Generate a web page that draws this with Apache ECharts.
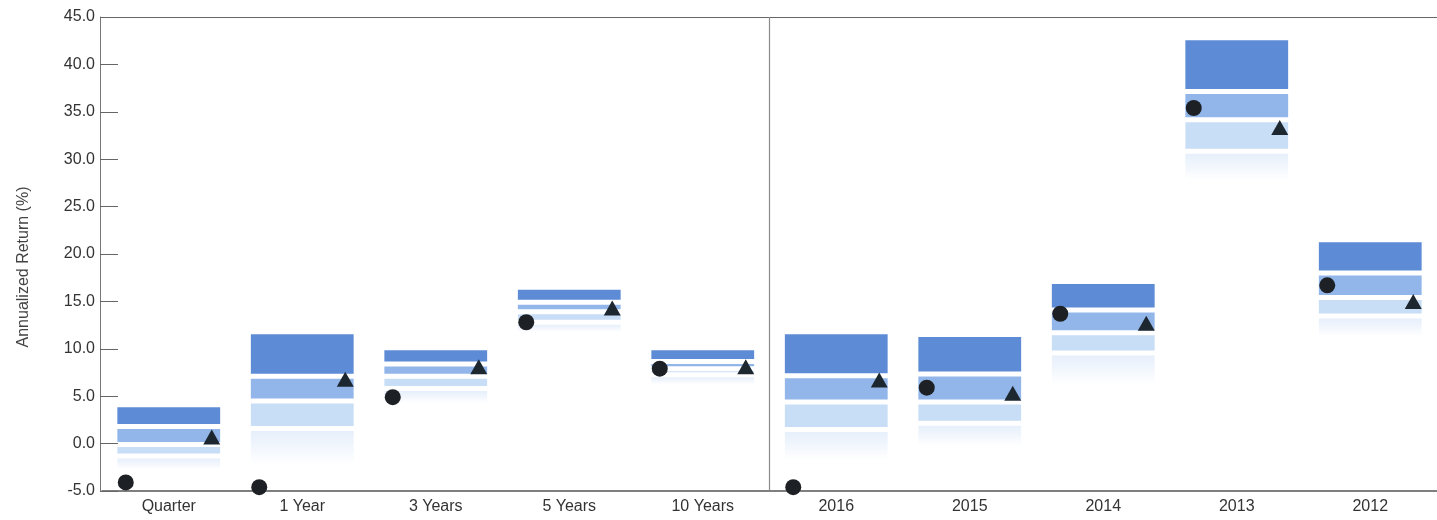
<!DOCTYPE html>
<html>
<head>
<meta charset="utf-8">
<script src="https://cdn.jsdelivr.net/npm/echarts@6/dist/echarts.min.js"></script>
<style>
html,body{margin:0;padding:0;background:#fff;}
#chart{width:1437px;height:520px;}
</style>
</head>
<body>
<div id="chart"></div>
<script>
const categories = ['Quarter','1 Year','3 Years','5 Years','10 Years','2016','2015','2014','2013','2012'];
// band boundaries, top to bottom (5th, 25th, median, 75th, 95th percentile)
const p05 = [4.1, 11.8, 10.1, 16.5, 10.1, 11.8, 11.5, 17.1, 42.8, 21.5];
const p25 = [1.8, 7.1, 8.4, 14.9, 8.65, 7.15, 7.35, 14.1, 37.15, 18.0];
const p50 = [-0.1, 4.5, 7.1, 13.9, 7.9, 4.4, 4.4, 11.7, 34.15, 15.4];
const p75 = [-1.3, 1.6, 5.8, 12.8, 7.25, 1.5, 2.15, 9.55, 30.85, 13.45];
const p95 = [-3.0, -2.5, 4.0, 11.5, 6.0, -2.0, -0.5, 6.0, 27.5, 11.0];
const circleValues = [-4.1, -4.6, 4.9, 12.8, 7.9, -4.6, 5.9, 13.7, 35.4, 16.7];
const triangleValues = [0.7, 6.8, 8.1, 14.3, 8.1, 6.7, 5.3, 12.7, 33.35, 15.0];
const yTicks = {min: -5, max: 45, interval: 5};
const dividerBefore = 5; // vertical divider between trailing periods and calendar years

const bandColors = ['#5e8bd6', '#92b6e9', '#c8ddf6', null];
const bounds = [p05, p25, p50, p75, p95];
const bandData = [];
for (let i = 0; i < categories.length; i++) {
  for (let b = 0; b < 4; b++) {
    bandData.push([i, bounds[b][i], bounds[b + 1][i], b]);
  }
}

const chart = echarts.init(document.getElementById('chart'), null, {renderer: 'canvas'});
const font = 'Liberation Sans, Arial, sans-serif';
chart.setOption({
  animation: false,
  grid: {left: 102, top: 17, width: 1337, bottom: 29},
  xAxis: [{
    type: 'category',
    data: categories,
    boundaryGap: true,
    axisLine: {show: true, onZero: false, lineStyle: {color: '#555', width: 1.5}},
    axisTick: {show: false},
    axisLabel: {color: '#333', fontSize: 16, fontFamily: font, margin: 8},
    splitLine: {show: false}
  }, {
    type: 'category',
    data: categories,
    position: 'top',
    axisLine: {show: true, onZero: false, lineStyle: {color: '#666', width: 1.2}},
    axisTick: {show: false},
    axisLabel: {show: false},
    splitLine: {show: false}
  }],
  yAxis: {
    type: 'value',
    min: yTicks.min, max: yTicks.max, interval: yTicks.interval,
    offset: 2,
    name: 'Annualized Return (%)',
    nameLocation: 'middle',
    nameGap: 68,
    nameTextStyle: {color: '#444', fontSize: 16, fontFamily: font, padding: [0, 0, 0, -26]},
    axisLine: {show: true, lineStyle: {color: '#777', width: 1}},
    axisTick: {show: true, inside: true, length: 18, lineStyle: {color: '#666'}},
    axisLabel: {color: '#333', fontSize: 16, fontFamily: font, margin: 5, formatter: v => v.toFixed(1)},
    splitLine: {show: false}
  },
  series: [{
    type: 'custom',
    data: [[dividerBefore]],
    encode: {x: 0},
    silent: true,
    renderItem: function (params, api) {
      const cs = params.coordSys;
      const x = api.coord([api.value(0), yTicks.min])[0] - api.size([1, 0])[0] / 2;
      return {
        type: 'line',
        shape: {x1: x, y1: cs.y, x2: x, y2: cs.y + cs.height},
        style: {stroke: '#8a8a8a', lineWidth: 1.2}
      };
    },
    z: 1
  }, {
    type: 'custom',
    data: bandData,
    encode: {x: 0, y: [1, 2]},
    renderItem: function (params, api) {
      const x = api.value(0);
      const lvl = api.value(3);
      const pTop = api.coord([x, api.value(1)]);
      const pBot = api.coord([x, api.value(2)]);
      const w = api.size([1, 0])[0] * 0.77;
      const gap = 2.5;
      const fill = lvl < 3 ? bandColors[lvl] : new echarts.graphic.LinearGradient(0, 0, 0, 1, [
        {offset: 0, color: '#e6effb'}, {offset: 1, color: '#ffffff'}
      ]);
      return {
        type: 'rect',
        shape: {x: pTop[0] - w / 2, y: pTop[1] + gap, width: w, height: Math.max(1, pBot[1] - pTop[1] - 2 * gap)},
        style: {fill: fill}
      };
    },
    z: 2
  }, {
    type: 'scatter',
    data: circleValues,
    symbol: 'circle',
    symbolSize: 16,
    symbolOffset: [-43, 0],
    itemStyle: {color: '#1d2024', opacity: 1},
    z: 5
  }, {
    type: 'scatter',
    data: triangleValues,
    symbol: 'triangle',
    symbolSize: [17, 15],
    symbolOffset: [43, 0],
    itemStyle: {color: '#1d2730', opacity: 1},
    z: 6
  }]
});
</script>
</body>
</html>
